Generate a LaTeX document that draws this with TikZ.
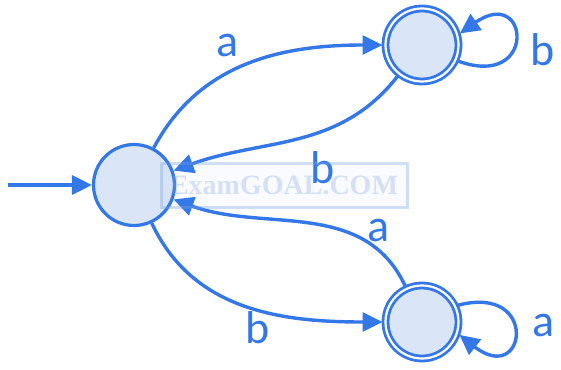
\documentclass[tikz,border=0pt]{standalone}
\usepackage{fontspec}
\setmainfont{Carlito}
\newfontfamily\wmfont{Liberation Serif}
\usetikzlibrary{arrows.meta}
\definecolor{sblue}{RGB}{51,119,232}
\definecolor{sfill}{RGB}{218,230,248}
\definecolor{wm}{RGB}{120,160,230}
\begin{document}
\begin{tikzpicture}[x=1pt,y=-1pt,
  state/.style={circle, draw=sblue, fill=sfill, line width=3.2pt, minimum size=81pt, inner sep=0pt},
  accept/.style={circle, draw=sblue, fill=sfill, line width=2.8pt, double=white, double distance=2.2pt, minimum size=73pt, inner sep=0pt, outer sep=3pt},
  edge/.style={draw=sblue, line width=3.4pt, -{Triangle[length=20pt,width=19pt]}},
  lbl/.style={text=sblue, font=\fontsize{46}{50}\selectfont, inner sep=0pt}]
\useasboundingbox (0,0) rectangle (561,369);
\node[state] (q0) at (134,185) {};
\node[accept] (q1) at (422,45) {};
\node[accept] (q2) at (422,322) {};
\coordinate (start) at (8,185);
\draw[edge] (start) -- (q0);
\draw[edge] (q0) to[out=62,in=180] (q1);
\draw[edge] (q1) to[out=-128,in=20] (q0);
\draw[edge] (q2) to[out=115,in=-20] (q0);
\draw[edge] (q0) to[out=-65,in=180] (q2);
\draw[edge] (q1.-24) .. controls +(-20:85pt) and +(35:85pt) .. (q1.17);
\draw[edge] (q2.25) .. controls +(15:85pt) and +(-38:85pt) .. (q2.-19);
\node[lbl] (la1) at (228,45) {a};
\node[lbl] (lb1) at (323,168) {b};
\node[lbl] (la2) at (379,230) {a};
\node[lbl] (lb2) at (258,328) {b};
\node[lbl] (lb3) at (543,50) {b};
\node[lbl] (la3) at (544,325) {a};
\node[draw=wm, draw opacity=0.35, line width=3pt, fill=wm, fill opacity=0.04, text opacity=0.3, text=wm,
  minimum width=246pt, minimum height=44pt, inner sep=0pt, font=\wmfont\bfseries\fontsize{28}{30}\selectfont]
  (wmk) at (284,185.5) {ExamGOAL.COM};
\end{tikzpicture}
\end{document}
